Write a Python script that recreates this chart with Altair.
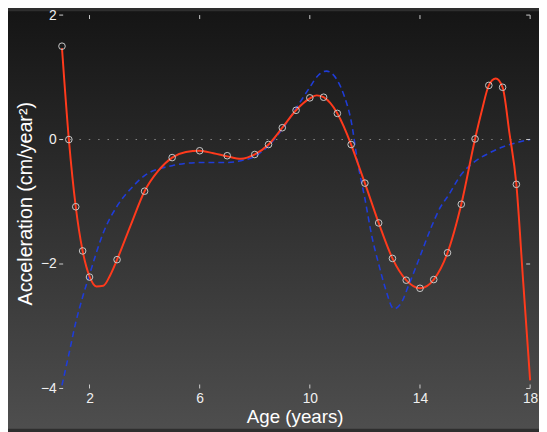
import altair as alt
import pandas as pd

# ---------------- data ----------------
obs_age = [1, 1.25, 1.5, 1.75, 2, 3, 4, 5, 6, 7, 8, 8.5, 9, 9.5, 10, 10.5, 11, 11.5,
           12, 12.5, 13, 13.5, 14, 14.5, 15, 15.5, 16, 16.5, 17, 17.5]
obs_acc = [1.50, 0.0, -1.08, -1.79, -2.21, -1.93, -0.83, -0.29, -0.18, -0.26, -0.24, -0.08,
           0.19, 0.47, 0.67, 0.68, 0.42, -0.08, -0.70, -1.34, -1.91, -2.26, -2.39, -2.25,
           -1.82, -1.04, 0.01, 0.87, 0.84, -0.72]

red_age = [1.0, 1.25, 1.5, 1.75, 2.0, 2.25, 2.5, 2.75, 3.0, 3.5, 4.0, 4.5, 5.0, 5.5, 6.0,
           6.5, 7.0, 7.5, 8.0, 8.5, 9.0, 9.5, 10.0, 10.25, 10.5, 11.0, 11.5, 11.75, 12.0,
           12.5, 13.0, 13.5, 14.0, 14.5, 15.0, 15.5, 16.0, 16.25, 16.5, 16.75, 17.0, 17.25,
           17.5, 17.75, 18.0]
red_acc = [1.47, 0.0, -1.08, -1.79, -2.2, -2.36, -2.35, -2.18, -1.93, -1.37, -0.83, -0.5,
           -0.29, -0.2, -0.18, -0.22, -0.27, -0.31, -0.24, -0.08, 0.19, 0.47, 0.66, 0.71,
           0.68, 0.42, -0.08, -0.39, -0.70, -1.34, -1.91, -2.26, -2.39, -2.25, -1.82, -1.04,
           0.01, 0.47, 0.87, 0.98, 0.84, 0.1, -0.72, -2.3, -3.87]

blue_age = [1.0, 1.25, 1.5, 1.75, 2.0, 2.5, 3.0, 3.5, 4.0, 5.0, 6.0, 7.0, 7.5, 8.0, 8.5,
            9.0, 9.5, 10.0, 10.3, 10.6, 11.0, 11.25, 11.5, 11.75, 12.0, 12.25, 12.5, 12.75,
            13.05, 13.3, 13.6, 14.0, 14.4, 14.75, 15.0, 15.5, 16.0, 16.5, 17.0, 17.5, 18.0]
blue_acc = [-3.95, -3.45, -2.94, -2.53, -2.17, -1.5, -1.07, -0.79, -0.58, -0.42, -0.37,
            -0.37, -0.34, -0.27, -0.1, 0.17, 0.5, 0.84, 1.03, 1.1, 0.95, 0.7, 0.3, -0.4,
            -0.95, -1.55, -2.0, -2.4, -2.72, -2.64, -2.33, -1.88, -1.42, -1.08, -0.92,
            -0.56, -0.35, -0.22, -0.12, -0.05, 0.0]

x_ticks = [2, 6, 10, 14, 18]
y_ticks = [-4, -2, 0, 2]

# ---------------- chart ----------------
W, H = 478, 379
FONT = "Liberation Sans"
FRAME = "#cfcfcf"

x_scale = alt.Scale(domain=[0.9, 18], nice=False, zero=False)
y_scale = alt.Scale(domain=[-4, 2], nice=False, zero=False)

x_axis = alt.Axis(values=x_ticks, title="Age (years)", domain=False, ticks=False, tickSize=0,
                  grid=False, labelColor="#f0f0f0", labelFont=FONT, labelFontSize=14,
                  labelPadding=3, labelFlush=False, titleColor="#ffffff", titleFont=FONT,
                  titleFontSize=19, titleFontWeight="normal", titleX=W / 2, titleY=35,
                  titleBaseline="alphabetic", titleAlign="center", zindex=1)
y_axis = alt.Axis(values=y_ticks, title="Acceleration (cm/year²)", domain=False, ticks=False,
                  tickSize=0, grid=False, labelColor="#f0f0f0", labelFont=FONT,
                  labelFontSize=14, labelPadding=3, labelFlush=False, titleColor="#ffffff",
                  titleFont=FONT, titleFontSize=20, titleFontWeight="normal", titleX=-28,
                  titleY=191, titleAngle=-90, titleBaseline="alphabetic", titleAlign="center",
                  zindex=1)

X = alt.X("age:Q", scale=x_scale, axis=x_axis)
Y = alt.Y("acc:Q", scale=y_scale, axis=y_axis)

bg = alt.Chart(pd.DataFrame({"k": [0]})).mark_rect(
    color=alt.Gradient(gradient="linear", x1=0, x2=0, y1=0, y2=1,
                       stops=[alt.GradientStop(color="#151515", offset=0),
                              alt.GradientStop(color="#4e4e4e", offset=1)])
).encode(x=alt.value(-52), x2=alt.value(W + 9), y=alt.value(-4), y2=alt.value(H + 41))

zero = alt.Chart(pd.DataFrame({"acc": [0]})).mark_rule(
    color="#8a8a8a", strokeWidth=1, strokeDash=[1.5, 8]
).encode(y=Y)

blue = alt.Chart(pd.DataFrame({"age": blue_age, "acc": blue_acc})).mark_line(
    color="#1f3cd8", strokeWidth=1.6, strokeDash=[6, 4], interpolate="monotone"
).encode(x=X, y=Y)

red = alt.Chart(pd.DataFrame({"age": red_age, "acc": red_acc})).mark_line(
    color="#ff3a1c", strokeWidth=2, interpolate="monotone"
).encode(x=X, y=Y)

pts = alt.Chart(pd.DataFrame({"age": obs_age, "acc": obs_acc})).mark_point(
    shape="circle", filled=False, size=45, color="#c8c8c8", strokeWidth=1, opacity=1
).encode(x=X, y=Y)

xt = pd.DataFrame({"age": x_ticks})
yt = pd.DataFrame({"acc": y_ticks})
tick_style = dict(color=FRAME, strokeWidth=1)
tb = alt.Chart(xt).mark_rule(**tick_style).encode(x=X, y=alt.value(H), y2=alt.value(H - 4))
tt = alt.Chart(xt).mark_rule(**tick_style).encode(x=X, y=alt.value(0), y2=alt.value(4))
tl = alt.Chart(yt).mark_rule(**tick_style).encode(y=Y, x=alt.value(0), x2=alt.value(4))
tr = alt.Chart(yt).mark_rule(**tick_style).encode(y=Y, x=alt.value(W), x2=alt.value(W - 4))

chart = alt.layer(bg, zero, blue, red, pts, tb, tt, tl, tr).properties(
    width=W, height=H,
    autosize=alt.AutoSizeParams(type="none"),
    padding={"left": 52, "top": 4, "right": 9, "bottom": 41},
    background="#2e2e2e",
).configure_view(stroke=FRAME, strokeWidth=1)

chart.save("out.html", embed_options={"renderer": "svg", "actions": False})
